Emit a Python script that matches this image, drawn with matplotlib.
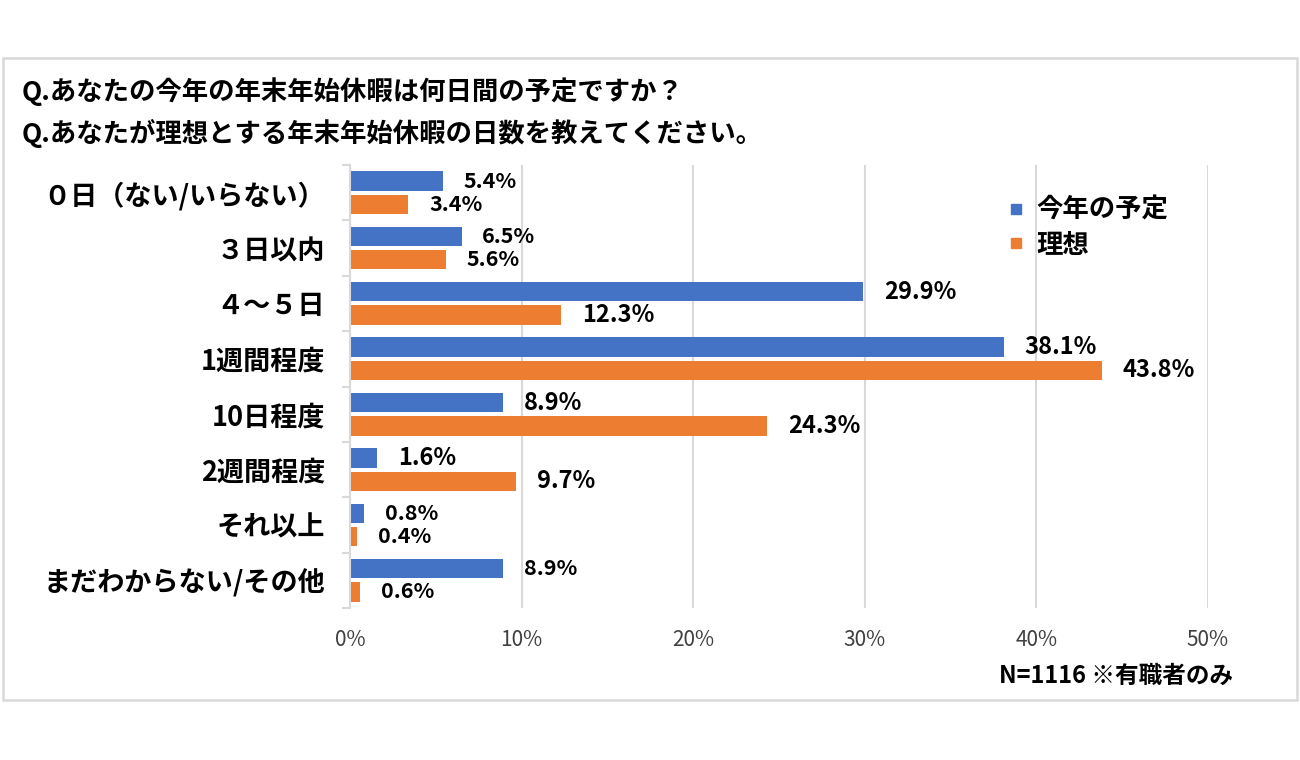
import numpy as np
import matplotlib.pyplot as plt
from matplotlib.patches import Rectangle
from matplotlib.lines import Line2D
from matplotlib.ticker import FixedLocator

plt.rcParams['font.family'] = ['Noto Sans CJK JP', 'DejaVu Sans']

## DATA
categories = ['０日（ない/いらない）', '３日以内', '４～５日', '1週間程度',
              '10日程度', '2週間程度', 'それ以上', 'まだわからない/その他']
plan_values = [5.4, 6.5, 29.9, 38.1, 8.9, 1.6, 0.8, 8.9]
ideal_values = [3.4, 5.6, 12.3, 43.8, 24.3, 9.7, 0.4, 0.6]
series_names = ['今年の予定', '理想']
# label sizes in the source differ: big (True) or small (False)
plan_big = [False, False, True, True, True, True, False, False]
ideal_big = [False, False, True, True, True, True, False, False]
x_ticks = [0, 10, 20, 30, 40, 50]
title_lines = ['Q.あなたの今年の年末年始休暇は何日間の予定ですか？',
               'Q.あなたが理想とする年末年始休暇の日数を教えてください。']
note_text = 'N=1116 ※有職者のみ'

blue = '#4472C4'
orange = '#ED7D31'
grid_col = '#D9D9D9'

fig = plt.figure(figsize=(13, 7.6), dpi=100)
ax = fig.add_axes([350 / 1300, 1 - 608 / 760, (1208 - 350) / 1300, (608 - 165) / 760])

## OUTER BORDER
fig.patches.append(Rectangle((3 / 1300, 1 - 700 / 760), 1294 / 1300, 642 / 760,
                             transform=fig.transFigure, fill=False,
                             edgecolor=grid_col, linewidth=1.8))

y = np.arange(len(categories))
h = 0.35
off = 0.21
ax.barh(y - off, plan_values, height=h, color=blue, zorder=3)
ax.barh(y + off, ideal_values, height=h, color=orange, zorder=3)

## VALUE LABELS
for vals, bigs, d in [(plan_values, plan_big, -off), (ideal_values, ideal_big, off)]:
    for i, (v, b) in enumerate(zip(vals, bigs)):
        ax.annotate(f'{v:.1f}%', (v, i + d), xytext=(15, 0), textcoords='offset points',
                    va='center', ha='left', fontsize=17 if b else 15.5,
                    fontweight='bold', color='black')

ax.set_xlim(0, 50)
ax.set_ylim(len(categories) - 0.5, -0.5)
ax.set_xticks(x_ticks)
ax.set_xticklabels([f'{t}%' for t in x_ticks], fontsize=15, color='#404040')
ax.tick_params(axis='x', length=0, pad=15)
ax.set_yticks(y)
ax.set_yticklabels(categories, fontsize=19.5, fontweight='bold')
ax.tick_params(axis='y', which='major', length=0, pad=18)
ax.yaxis.set_minor_locator(FixedLocator(np.arange(len(categories) + 1) - 0.5))
ax.tick_params(axis='y', which='minor', length=6, color=grid_col, width=1.5)

ax.grid(axis='x', color=grid_col, linewidth=1.5, zorder=0)
for s in ['top', 'right', 'bottom']:
    ax.spines[s].set_visible(False)
ax.spines['left'].set_color(grid_col)
ax.spines['left'].set_linewidth(1.5)
ax.spines['left'].set_zorder(4)

## TITLE
fig.text(22 / 1300, 1 - 92 / 760, title_lines[0], fontsize=19, fontweight='bold', va='center')
fig.text(22 / 1300, 1 - 133 / 760, title_lines[1], fontsize=19, fontweight='bold', va='center')

## LEGEND
handles = [Line2D([], [], marker='s', linestyle='none', markersize=7, color=c)
           for c in [blue, orange]]
ax.legend(handles, series_names, loc='upper left', bbox_to_anchor=(984 / 1300, 1 - 173 / 760),
          bbox_transform=fig.transFigure, frameon=False,
          handlelength=0.6, handletextpad=0.5, labelspacing=0.3,
          prop={'weight': 'bold', 'size': 19})

## NOTE
fig.text(1233 / 1300, 1 - 676 / 760, note_text, fontsize=17, fontweight='bold',
         ha='right', va='center')

fig.savefig('out.png', dpi=100)
